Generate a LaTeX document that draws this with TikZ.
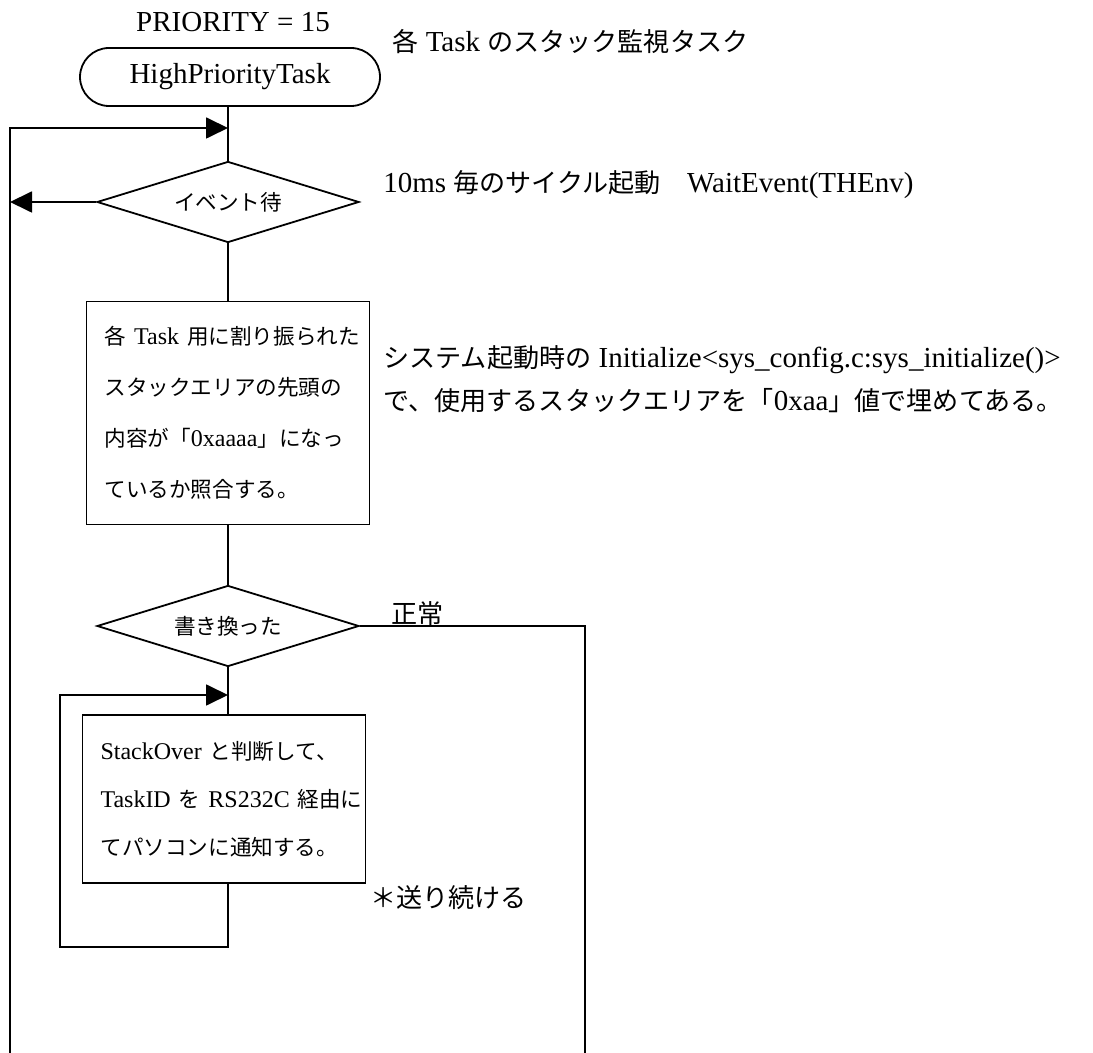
\documentclass[tikz,border=0pt]{standalone}
\usepackage{fontspec}
\setmainfont{Liberation Serif}
\newfontfamily\jp[Scale=0.9]{Noto Sans CJK JP}
\newcommand{\jtxt}[1]{{\jp #1}}
\usetikzlibrary{arrows.meta,shapes.geometric,shapes.misc}

\tikzset{
  flow/.style={draw,line width=0.9pt},
  tip/.style={-{Triangle[length=11pt,width=10.5pt]}},
  term/.style={rounded rectangle,draw,line width=0.9pt,minimum width=150pt,minimum height=29pt,
    inner sep=0pt,font=\fontsize{14.5}{17}\selectfont},
  decide/.style={diamond,draw,line width=0.9pt,aspect=3.2,minimum width=131pt,minimum height=40.5pt,
    inner sep=0pt,font=\fontsize{12}{14}\selectfont},
  procbox/.style={rectangle,draw,line width=0.9pt,align=left,inner xsep=9pt,text width=123.5pt},
  note/.style={anchor=west,inner sep=0pt,align=left,font=\fontsize{14.5}{21.5}\selectfont}
}

\begin{document}
\begin{tikzpicture}[x=0.5pt,y=-0.5pt]
\useasboundingbox (0,0) rectangle (1093,1053);

% task head
\node[inner sep=0pt,font=\fontsize{14.5}{17}\selectfont] (prio) at (233,22) {PRIORITY = 15};
\node[term] (task) at (230,77) {HighPriorityTask};
\node[note] (tasknote) at (392,42) {\jtxt{各} Task \jtxt{のスタック監視タスク}};

% wait for event
\node[decide] (wait) at (228,202) {\jtxt{イベント待}};
\node[note] (waitnote) at (383,185) {10ms \jtxt{毎のサイクル起動　}WaitEvent(THEnv)};

% compare stack top
\node[procbox,minimum height=111.5pt,font=\fontsize{12}{25.5}\selectfont] (check) at (228,413)
  {\jtxt{各}~Task~\jtxt{用に割り振られた}\\
   \jtxt{スタックエリアの先頭の}\\
   \jtxt{内容が「}0xaaaa\jtxt{」になっ}\\
   \jtxt{ているか照合する。}};
\node[note] (initnote) at (383,379)
  {\jtxt{システム起動時の} Initialize<sys\_config.c:sys\_initialize()>\\
   \jtxt{で、使用するスタックエリアを「}0xaa\jtxt{」値で埋めてある。}};

% overwritten?
\node[decide] (rewr) at (228,626) {\jtxt{書き換った}};
\node[note] (oklabel) at (391,614) {\jtxt{正常}};

% report over RS232C
\node[procbox,minimum height=84pt,font=\fontsize{12}{24}\selectfont] (notify) at (224,799)
  {StackOver~\jtxt{と判断して、}\\
   TaskID~\jtxt{を}~RS232C~\jtxt{経由に}\\
   \jtxt{てパソコンに通知する。}};
\node[note] (keepnote) at (370,898) {\jtxt{＊送り続ける}};

% loop points
\coordinate (top) at (228,128);
\coordinate (lft) at (10,1053);
\coordinate (rgt) at (585,1053);
\coordinate (back) at (228,695);
\coordinate (loopB) at (60,947);

\draw[flow] (wait.north |- task.south) -- (wait.north);
\draw[flow,tip] (lft) -- (lft |- top) -- (top);
\draw[flow,tip] (wait.west) -- (wait.west -| lft);
\draw[flow] (wait.south) -- (check.north);
\draw[flow] (check.south) -- (rewr.north);
\draw[flow] (rewr.east) -| (rgt);
\draw[flow] (rewr.south) -- (rewr.south |- notify.north);
\draw[flow,tip] (notify.south -| back) -- (loopB -| back) -- (loopB) -- (loopB |- back) -- (back);
\end{tikzpicture}
\end{document}
